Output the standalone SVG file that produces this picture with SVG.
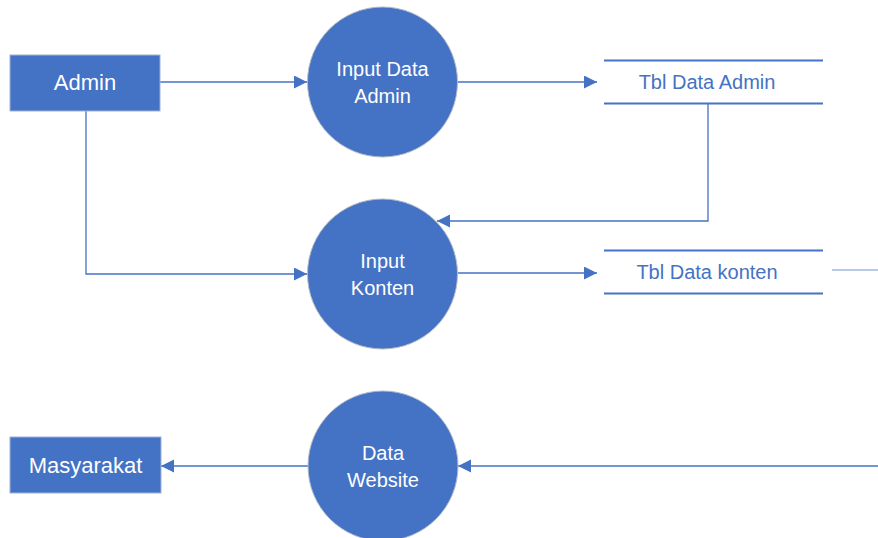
<svg xmlns="http://www.w3.org/2000/svg" width="878" height="538" viewBox="0 0 878 538">
<defs>
<marker id="arr" markerUnits="userSpaceOnUse" markerWidth="14" markerHeight="14" refX="13" refY="6.5" orient="auto">
<path d="M0,0 L13,6.5 L0,13 Z" fill="#4472C4"/>
</marker>
<style>
.ent{fill:#4472C4;stroke:#9fb3d9;stroke-width:1}
.proc{fill:#4472C4;stroke:#b4bcc8;stroke-width:1}
.wt{fill:#ffffff;font-family:"Liberation Sans",Arial,sans-serif;text-anchor:middle}
.bt{fill:#4472C4;font-family:"Liberation Sans",Arial,sans-serif;text-anchor:middle;font-size:20px}
.store{stroke:#4472C4;stroke-width:2}
.c{fill:none;stroke:#4472C4;stroke-width:1.3}
</style>
</defs>
<rect width="878" height="538" fill="#ffffff"/>
<g id="connectors">
<line class="c" x1="160" y1="82" x2="307" y2="82" marker-end="url(#arr)"/>
<line class="c" x1="458" y1="82" x2="597" y2="82" marker-end="url(#arr)"/>
<polyline class="c" points="708,103 708,221 437,221" marker-end="url(#arr)"/>
<polyline class="c" points="86,111 86,274 307,274" marker-end="url(#arr)"/>
<line class="c" x1="458" y1="273" x2="597" y2="273" marker-end="url(#arr)"/>
<line x1="832" y1="270" x2="878" y2="270" stroke="#6f94d2" stroke-width="1"/>
<line class="c" x1="308" y1="466" x2="161" y2="466" marker-end="url(#arr)"/>
<line class="c" x1="878" y1="466" x2="458" y2="466" marker-end="url(#arr)"/>
</g>
<g id="admin">
<rect class="ent" x="10" y="55" width="150" height="56"/>
<text class="wt" x="85" y="90" font-size="22">Admin</text>
</g>
<g id="input-data-admin">
<circle class="proc" cx="382.5" cy="82" r="75"/>
<text class="wt" x="382.5" y="76" font-size="20">Input Data</text>
<text class="wt" x="382.5" y="103" font-size="20">Admin</text>
</g>
<g id="tbl-data-admin">
<line class="store" x1="604" y1="60.5" x2="823" y2="60.5"/>
<line class="store" x1="604" y1="103.5" x2="823" y2="103.5"/>
<text class="bt" x="707" y="89">Tbl Data Admin</text>
</g>
<g id="input-konten">
<circle class="proc" cx="382.5" cy="274" r="75"/>
<text class="wt" x="382.5" y="268" font-size="20">Input</text>
<text class="wt" x="382.5" y="295" font-size="20">Konten</text>
</g>
<g id="tbl-data-konten">
<line class="store" x1="604" y1="250.5" x2="823" y2="250.5"/>
<line class="store" x1="604" y1="293.5" x2="823" y2="293.5"/>
<text class="bt" x="707" y="279">Tbl Data konten</text>
</g>
<g id="masyarakat">
<rect class="ent" x="10" y="437" width="151" height="56"/>
<text class="wt" x="85.5" y="473" font-size="22">Masyarakat</text>
</g>
<g id="data-website">
<circle class="proc" cx="383" cy="466" r="75"/>
<text class="wt" x="383" y="460" font-size="20">Data</text>
<text class="wt" x="383" y="487" font-size="20">Website</text>
</g>
</svg>
